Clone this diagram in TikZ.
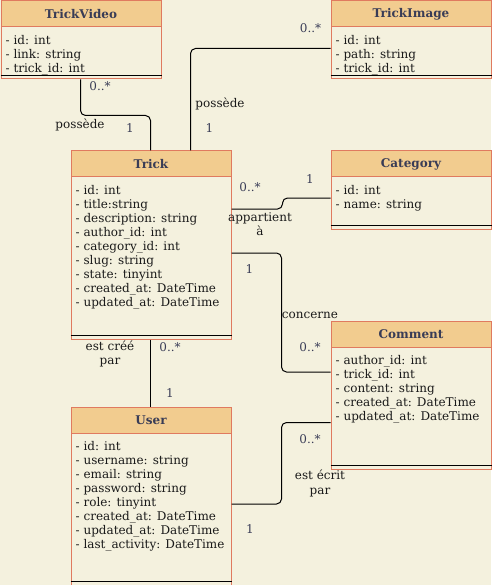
\documentclass[tikz,border=0pt]{standalone}
\usepackage{fontspec}
\setmainfont{DejaVu Serif}
\usetikzlibrary{calc}
\definecolor{bg}{HTML}{F4F1DE}
\definecolor{hdr}{HTML}{F2CC8F}
\definecolor{brd}{HTML}{E07A5F}
\definecolor{ink}{HTML}{393C56}
\definecolor{txt}{HTML}{1A1A1A}
\newcommand\umlbox[6]{%
  \node[classbox, minimum height=#4pt] (#1) at (#2,#3) {};
  \node[hdrbox] (#1-h) at (#2,#3) {#5};
  \draw[sepline] ($(#1.south west)+(0,-4)$) -- ($(#1.south east)+(0,-4)$);
  \node[attrs] (#1-a) at ($(#1.north west)+(5,33.7)$) {\strut #6};
}
\begin{document}
\begin{tikzpicture}[x=1pt,y=-1pt,
  classbox/.style={draw=brd, fill=bg, line width=1pt, minimum width=160pt, inner sep=0pt, anchor=north west},
  hdrbox/.style={draw=brd, fill=hdr, line width=1pt, minimum width=160pt, minimum height=26pt, inner sep=0pt, anchor=north west, font=\fontsize{12}{14}\selectfont\bfseries, text=ink},
  attrs/.style={anchor=north west, inner sep=0pt, align=left, font=\fontsize{12}{14}\selectfont, text=txt},
  conn/.style={draw=black, line width=1pt, rounded corners=5pt},
  mult/.style={font=\fontsize{12}{14}\selectfont, text=ink, inner sep=0pt, text height=8.5pt, text depth=2.5pt},
  lbl/.style={font=\fontsize{12}{14}\selectfont, text=txt, inner sep=0pt, text height=8.5pt, text depth=2.5pt},
  sepline/.style={draw=black, line width=1pt}]
\fill[bg] (0,0) rectangle (491,585);
\useasboundingbox (0,0) rectangle (491,585);

\umlbox{tv}{0.5}{0.5}{78}{TrickVideo}{- id: int\\- link: string\\- trick\_id: int}
\umlbox{ti}{330.5}{0.5}{78}{TrickImage}{- id: int\\- path: string\\- trick\_id: int}
\umlbox{trick}{70.5}{150.5}{188}{Trick}{- id: int\\- title:string\\- description: string\\- author\_id: int\\- category\_id: int\\- slug: string\\- state: tinyint\\- created\_at: DateTime\\- updated\_at: DateTime}
\umlbox{cat}{330.5}{150.5}{78}{Category}{- id: int\\- name: string}
\umlbox{cmt}{330.5}{320.5}{148}{Comment}{- author\_id: int\\- trick\_id: int\\- content: string\\- created\_at: DateTime\\- updated\_at: DateTime}
\umlbox{user}{70.5}{406.5}{178}{User}{- id: int\\- username: string\\- email: string\\- password: string\\- role: tinyint\\- created\_at: DateTime\\- updated\_at: DateTime\\- last\_activity: DateTime}

% connectors
\draw[conn] ($(tv.south west)+(80,0)$) -- ++(0,36) -| ($(trick.north west)+(80,0)$);
\draw[conn] ($(trick.north west)+(120,0)$) |- ($(ti.north west)+(0,48)$);
\draw[conn] ($(trick.north east)+(0,58.5)$) -- ++(51,0) |- ($(cat.north west)+(0,47.5)$);
\draw[conn] ($(trick.north east)+(0,102.5)$) -- ++(50,0) |- ($(cmt.north west)+(0,51.5)$);
\draw[conn] ($(trick.south west)+(80,0)$) -- ($(user.north west)+(80,0)$);
\draw[conn] ($(user.north east)+(0,97.5)$) -- ++(50,0) |- ($(cmt.north west)+(0,102)$);

% labels
\node[mult] (m1) at (100,88) {0..*};
\node[lbl] (l1) at (80,126) {possède};
\node[mult] (m2) at (130,130) {1};
\node[mult] (m3) at (310.5,30) {0..*};
\node[lbl] (l2) at (220,105) {possède};
\node[mult] (m4) at (209.5,130) {1};
\node[mult] (m5) at (250,188) {0..*};
\node[lbl] (l3) at (260,218) {appartient};
\node[lbl] (l3b) at (260,232) {à};
\node[mult] (m6) at (310,180) {1};
\node[mult] (m7) at (249.5,270) {1};
\node[lbl] (l4) at (310,315) {concerne};
\node[mult] (m8) at (310,348) {0..*};
\node[lbl] (l5) at (110,347) {est créé};
\node[lbl] (l5b) at (110,361) {par};
\node[mult] (m9) at (170,348) {0..*};
\node[mult] (m10) at (170,394) {1};
\node[mult] (m11) at (310,440) {0..*};
\node[lbl] (l6) at (320,476) {est écrit};
\node[lbl] (l6b) at (320,491) {par};
\node[mult] (m12) at (250,530) {1};
\end{tikzpicture}
\end{document}
